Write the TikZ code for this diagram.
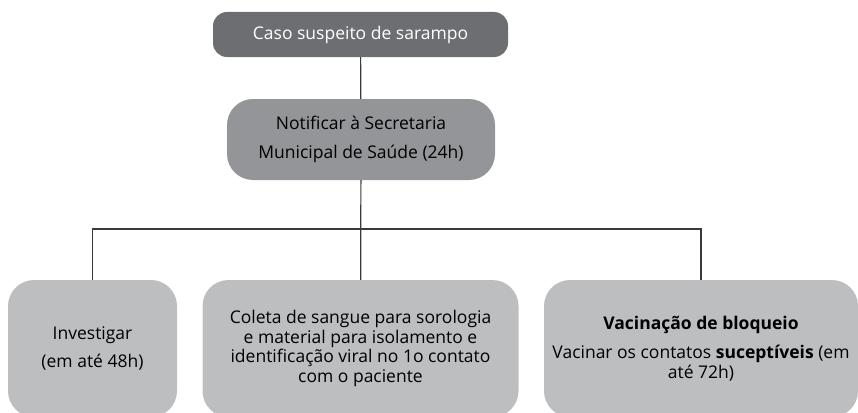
\documentclass[tikz,border=0pt]{standalone}
\usepackage{fontspec}
\setmainfont{Open Sans}
\definecolor{darkbox}{HTML}{6D6E71}
\definecolor{midbox}{HTML}{939598}
\definecolor{lightbox}{HTML}{BCBEC0}
\definecolor{linecol}{HTML}{3A3A3C}
\tikzset{
  box/.style={rounded corners=26pt, inner sep=0pt, align=center,
    font=\fontsize{17.5}{19.5}\selectfont},
  toplevel/.style={box, fill=darkbox, text=white, rounded corners=14pt},
  midlevel/.style={box, fill=midbox, text=black},
  leaf/.style={box, fill=lightbox, text=black, minimum height=137pt},
  link/.style={draw=linecol, line width=1.2pt}
}
\begin{document}
\begin{tikzpicture}[x=1pt, y=-1pt]
\useasboundingbox ( 0, 0 ) rectangle ( 858, 412 );

% Case
\node [toplevel, minimum width=295pt, minimum height=45pt] (caso) at ( 360.5, 34.5 )
  {Caso suspeito de sarampo};

% Notification
\node [midlevel, minimum width=268pt, minimum height=81pt] (notificar) at ( 361, 139.5 )
  {Notificar à Secretaria\\[10pt]Municipal de Saúde (24h)};

% Actions
\node [leaf, minimum width=169pt] (investigar) at ( 92.5, 348.5 )
  {Investigar\\[8pt](em até 48h)};
\node [leaf, minimum width=316pt] (coleta) at ( 360.5, 348.5 )
  {Coleta de sangue para sorologia\\e material para isolamento e\\identificação viral no 1o contato\\com o paciente};
\node [leaf, minimum width=314pt] (vacinacao) at ( 701, 348.5 )
  {\textbf{Vacinação de bloqueio}\\[10pt]Vacinar os contatos \textbf{suceptíveis} (em\\até 72h)};

% Links
\coordinate (bus) at ( 360.5, 229 );
\draw [link] (caso) -- (notificar);
\draw [link] (notificar) -- (coleta);
\draw [link] (investigar.north) -- (investigar.north |- bus) -- (vacinacao.north |- bus) -- (vacinacao.north);

\end{tikzpicture}
\end{document}
